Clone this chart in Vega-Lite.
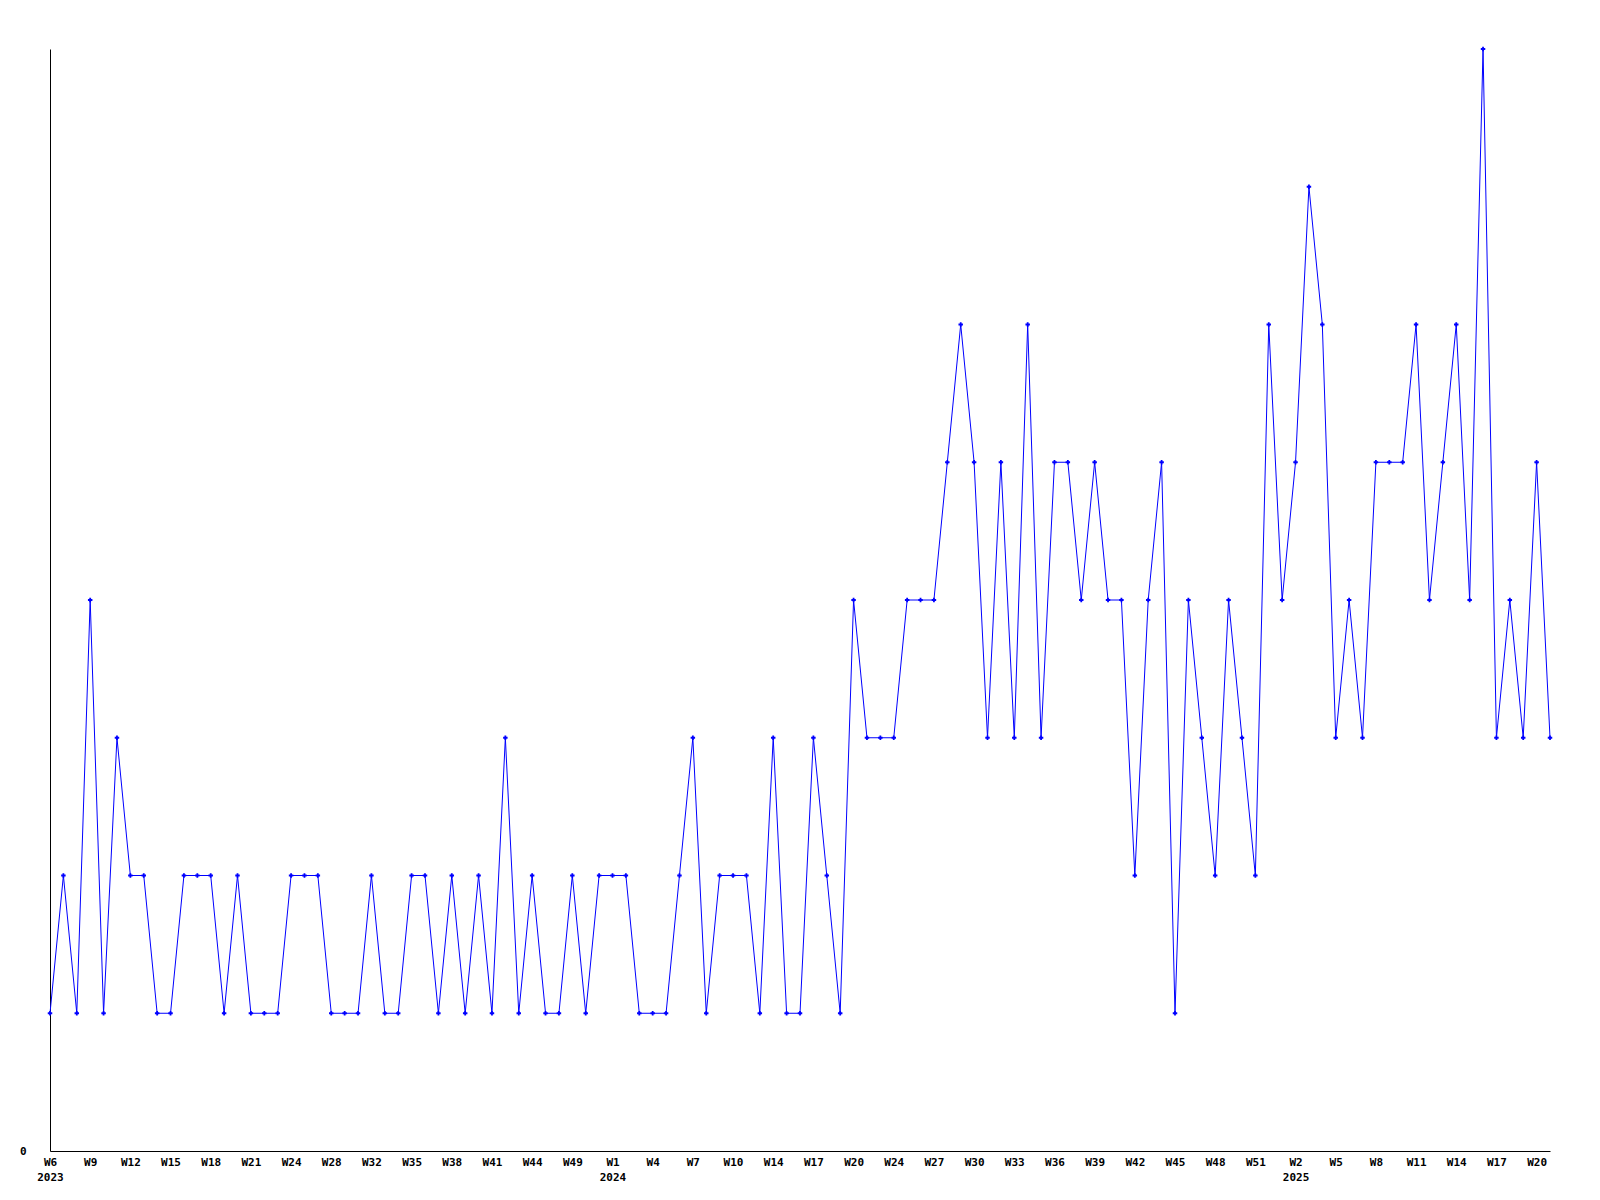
{
  "$schema": "https://vega.github.io/schema/vega-lite/v6.json",
  "width": 1500,
  "height": 1102,
  "autosize": {"type": "none"},
  "padding": {"left": 50, "top": 49, "right": 50, "bottom": 49},
  "background": "white",
  "config": {
    "view": {"stroke": null},
    "axis": {
      "labelFont": "DejaVu Sans Mono",
      "labelFontWeight": "bold",
      "labelFontSize": 11,
      "labelColor": "black",
      "domainColor": "black",
      "domainWidth": 1,
      "grid": false,
      "ticks": false,
      "tickSize": 0,
      "title": null
    }
  },
  "data": {
    "values": [
      {"week": "2023-W6", "count": 1},
      {"week": "2023-W7", "count": 2},
      {"week": "2023-W8", "count": 1},
      {"week": "2023-W9", "count": 4},
      {"week": "2023-W10", "count": 1},
      {"week": "2023-W11", "count": 3},
      {"week": "2023-W12", "count": 2},
      {"week": "2023-W13", "count": 2},
      {"week": "2023-W14", "count": 1},
      {"week": "2023-W15", "count": 1},
      {"week": "2023-W16", "count": 2},
      {"week": "2023-W17", "count": 2},
      {"week": "2023-W18", "count": 2},
      {"week": "2023-W19", "count": 1},
      {"week": "2023-W20", "count": 2},
      {"week": "2023-W21", "count": 1},
      {"week": "2023-W22", "count": 1},
      {"week": "2023-W23", "count": 1},
      {"week": "2023-W24", "count": 2},
      {"week": "2023-W25", "count": 2},
      {"week": "2023-W26", "count": 2},
      {"week": "2023-W28", "count": 1},
      {"week": "2023-W29", "count": 1},
      {"week": "2023-W31", "count": 1},
      {"week": "2023-W32", "count": 2},
      {"week": "2023-W33", "count": 1},
      {"week": "2023-W34", "count": 1},
      {"week": "2023-W35", "count": 2},
      {"week": "2023-W36", "count": 2},
      {"week": "2023-W37", "count": 1},
      {"week": "2023-W38", "count": 2},
      {"week": "2023-W39", "count": 1},
      {"week": "2023-W40", "count": 2},
      {"week": "2023-W41", "count": 1},
      {"week": "2023-W42", "count": 3},
      {"week": "2023-W43", "count": 1},
      {"week": "2023-W44", "count": 2},
      {"week": "2023-W45", "count": 1},
      {"week": "2023-W47", "count": 1},
      {"week": "2023-W49", "count": 2},
      {"week": "2023-W50", "count": 1},
      {"week": "2023-W52", "count": 2},
      {"week": "2024-W1", "count": 2},
      {"week": "2024-W2", "count": 2},
      {"week": "2024-W3", "count": 1},
      {"week": "2024-W4", "count": 1},
      {"week": "2024-W5", "count": 1},
      {"week": "2024-W6", "count": 2},
      {"week": "2024-W7", "count": 3},
      {"week": "2024-W8", "count": 1},
      {"week": "2024-W9", "count": 2},
      {"week": "2024-W10", "count": 2},
      {"week": "2024-W11", "count": 2},
      {"week": "2024-W12", "count": 1},
      {"week": "2024-W14", "count": 3},
      {"week": "2024-W15", "count": 1},
      {"week": "2024-W16", "count": 1},
      {"week": "2024-W17", "count": 3},
      {"week": "2024-W18", "count": 2},
      {"week": "2024-W19", "count": 1},
      {"week": "2024-W20", "count": 4},
      {"week": "2024-W21", "count": 3},
      {"week": "2024-W22", "count": 3},
      {"week": "2024-W24", "count": 3},
      {"week": "2024-W25", "count": 4},
      {"week": "2024-W26", "count": 4},
      {"week": "2024-W27", "count": 4},
      {"week": "2024-W28", "count": 5},
      {"week": "2024-W29", "count": 6},
      {"week": "2024-W30", "count": 5},
      {"week": "2024-W31", "count": 3},
      {"week": "2024-W32", "count": 5},
      {"week": "2024-W33", "count": 3},
      {"week": "2024-W34", "count": 6},
      {"week": "2024-W35", "count": 3},
      {"week": "2024-W36", "count": 5},
      {"week": "2024-W37", "count": 5},
      {"week": "2024-W38", "count": 4},
      {"week": "2024-W39", "count": 5},
      {"week": "2024-W40", "count": 4},
      {"week": "2024-W41", "count": 4},
      {"week": "2024-W42", "count": 2},
      {"week": "2024-W43", "count": 4},
      {"week": "2024-W44", "count": 5},
      {"week": "2024-W45", "count": 1},
      {"week": "2024-W46", "count": 4},
      {"week": "2024-W47", "count": 3},
      {"week": "2024-W48", "count": 2},
      {"week": "2024-W49", "count": 4},
      {"week": "2024-W50", "count": 3},
      {"week": "2024-W51", "count": 2},
      {"week": "2024-W52", "count": 6},
      {"week": "2025-W1", "count": 4},
      {"week": "2025-W2", "count": 5},
      {"week": "2025-W3", "count": 7},
      {"week": "2025-W4", "count": 6},
      {"week": "2025-W5", "count": 3},
      {"week": "2025-W6", "count": 4},
      {"week": "2025-W7", "count": 3},
      {"week": "2025-W8", "count": 5},
      {"week": "2025-W9", "count": 5},
      {"week": "2025-W10", "count": 5},
      {"week": "2025-W11", "count": 6},
      {"week": "2025-W12", "count": 4},
      {"week": "2025-W13", "count": 5},
      {"week": "2025-W14", "count": 6},
      {"week": "2025-W15", "count": 4},
      {"week": "2025-W16", "count": 8},
      {"week": "2025-W17", "count": 3},
      {"week": "2025-W18", "count": 4},
      {"week": "2025-W19", "count": 3},
      {"week": "2025-W20", "count": 5},
      {"week": "2025-W21", "count": 3}
    ]
  },
  "mark": {
    "type": "line",
    "color": "#0000ff",
    "strokeWidth": 1,
    "point": {"shape": "cross", "size": 20, "filled": true, "color": "#0000ff"}
  },
  "encoding": {
    "x": {
      "field": "week",
      "type": "ordinal",
      "sort": null,
      "scale": {"type": "point", "padding": 0},
      "axis": {
        "values": ["2023-W6", "2023-W9", "2023-W12", "2023-W15", "2023-W18", "2023-W21", "2023-W24", "2023-W28", "2023-W32", "2023-W35", "2023-W38", "2023-W41", "2023-W44", "2023-W49", "2024-W1", "2024-W4", "2024-W7", "2024-W10", "2024-W14", "2024-W17", "2024-W20", "2024-W24", "2024-W27", "2024-W30", "2024-W33", "2024-W36", "2024-W39", "2024-W42", "2024-W45", "2024-W48", "2024-W51", "2025-W2", "2025-W5", "2025-W8", "2025-W11", "2025-W14", "2025-W17", "2025-W20"],
        "labelExpr": "(datum.value == '2023-W6' || datum.value == '2024-W1' || datum.value == '2025-W2') ? [split(datum.value, '-')[1], split(datum.value, '-')[0]] : split(datum.value, '-')[1]",
        "labelAngle": 0,
        "labelPadding": 5,
        "labelLineHeight": 15,
        "labelOverlap": false
      }
    },
    "y": {
      "field": "count",
      "type": "quantitative",
      "scale": {"domain": [0, 8], "nice": false},
      "axis": {"values": [0], "labelPadding": 24}
    }
  }
}
